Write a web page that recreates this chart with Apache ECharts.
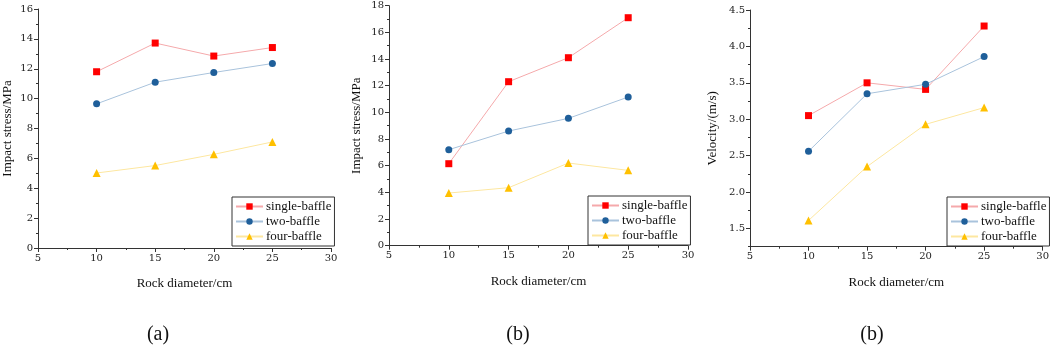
<!DOCTYPE html>
<html>
<head>
<meta charset="utf-8">
<script src="https://cdn.jsdelivr.net/npm/echarts@6/dist/echarts.min.js"></script>
<style>
html,body{margin:0;padding:0;background:#fff;}
#c{width:1052px;height:348px;}
</style>
</head>
<body>
<div id="c"></div>
<script>
// ---- data ----
var diameters = [10, 15, 20, 25];
var seriesNames = ['single-baffle', 'two-baffle', 'four-baffle'];

var stressA_single = [11.8, 13.72, 12.85, 13.42];
var stressA_two    = [9.65, 11.1, 11.75, 12.35];
var stressA_four   = [5.02, 5.52, 6.27, 7.1];

var stressB_single = [6.15, 12.3, 14.1, 17.1];
var stressB_two    = [7.2, 8.6, 9.55, 11.15];
var stressB_four   = [3.95, 4.35, 6.2, 5.65];

var velC_single = [3.05, 3.5, 3.41, 4.28];
var velC_two    = [2.56, 3.35, 3.48, 3.86];
var velC_four   = [1.61, 2.35, 2.93, 3.16];

var xTicks = [5, 10, 15, 20, 25, 30];
var yTicksA = [0, 2, 4, 6, 8, 10, 12, 14, 16];
var yTicksB = [0, 2, 4, 6, 8, 10, 12, 14, 16, 18];
var yTicksC = [1.5, 2.0, 2.5, 3.0, 3.5, 4.0, 4.5];

var captions = ['(a)', '(b)', '(b)'];
var xName = 'Rock diameter/cm';
var yNames = ['Impact stress/MPa', 'Impact stress/MPa', 'Velocity/(m/s)'];

// ---- styling ----
var serif = 'Liberation Serif';
var tickFont = 'DejaVu Serif';
var markerColors = ['#ff0000', '#1f5f9a', '#ffc000'];
var lineColors = ['#f5a9ab', '#a9c3dc', '#fde7a0'];
var symbols = ['rect', 'circle', 'triangle'];
var symbolSizes = [7, 7, 8];

function pairs(vals) { return diameters.map(function (d, i) { return [d, vals[i]]; }); }

var grids = [
  {left: 33, right: 721, top: 9, bottom: 100},
  {left: 389, right: 364, top: 5.7, bottom: 102.3},
  {left: 750, right: 6, top: 10, bottom: 101.3}
];

var axisLineStyle = {color: '#333', width: 1};
function xAxis(i) {
  return {
    type: 'value', gridIndex: i, min: xTicks[0], max: xTicks[xTicks.length - 1], interval: 5,
    name: xName, nameLocation: 'middle', nameGap: 29,
    nameTextStyle: {fontFamily: serif, fontSize: 13, color: '#111'},
    axisLine: {show: true, lineStyle: axisLineStyle},
    axisTick: {show: true, inside: false, length: 4, lineStyle: axisLineStyle},
    minorTick: {show: true, splitNumber: 2, length: 2, lineStyle: {color: '#333'}},
    axisLabel: {fontFamily: tickFont, fontSize: 10, color: '#222', margin: 5},
    splitLine: {show: false}
  };
}
function yAxis(i, ticks, nameGap, extra) {
  var a = {
    type: 'value', gridIndex: i,
    name: yNames[i], nameLocation: 'middle', nameGap: nameGap,
    nameTextStyle: {fontFamily: serif, fontSize: 13, color: '#111'},
    axisLine: {show: true, lineStyle: axisLineStyle},
    axisTick: {show: true, inside: false, length: 4, lineStyle: axisLineStyle},
    minorTick: {show: true, splitNumber: 2, length: 2, lineStyle: {color: '#333'}},
    axisLabel: {fontFamily: tickFont, fontSize: 10, color: '#222', margin: 5},
    splitLine: {show: false}
  };
  for (var k in extra) a[k] = extra[k];
  return a;
}

var yAxes = [
  yAxis(0, yTicksA, 24, {min: yTicksA[0], max: yTicksA[yTicksA.length - 1], interval: 2}),
  yAxis(1, yTicksB, 26, {min: yTicksB[0], max: yTicksB[yTicksB.length - 1], interval: 2}),
  yAxis(2, yTicksC, 31, {min: 1.25, max: yTicksC[yTicksC.length - 1]})
];
// panel (c): labels/ticks at custom positions, minor ticks from a hidden helper axis
yAxes[2].axisLabel.customValues = yTicksC;
yAxes[2].axisLabel.formatter = function (v) { return v.toFixed(1); };
yAxes[2].axisTick.customValues = yTicksC;
yAxes[2].minorTick = {show: false};
yAxes.push({
  type: 'value', gridIndex: 2, min: 1.25, max: 4.5, interval: 0.25, position: 'left',
  axisLine: {show: false}, axisLabel: {show: false}, splitLine: {show: false},
  axisTick: {show: true, inside: false, length: 2, lineStyle: {color: '#333'}}
});

var panels = [
  [stressA_single, stressA_two, stressA_four],
  [stressB_single, stressB_two, stressB_four],
  [velC_single, velC_two, velC_four]
];

var series = [];
panels.forEach(function (p, gi) {
  p.forEach(function (vals, si) {
    series.push({
      type: 'line', name: seriesNames[si], xAxisIndex: gi, yAxisIndex: gi,
      data: pairs(vals), symbol: symbols[si], symbolSize: symbolSizes[si],
      lineStyle: {color: lineColors[si], width: 1},
      itemStyle: {color: markerColors[si]},
      emphasis: {disabled: true}, animation: false, z: 3
    });
  });
});

var legendPos = [
  {left: 232, top: 197},
  {left: 588, top: 196},
  {left: 947, top: 197}
];
var legends = legendPos.map(function (pos, i) {
  return {
    left: pos.left, top: pos.top, orient: 'vertical',
    data: seriesNames, borderColor: '#333', borderWidth: 1, borderRadius: 0,
    padding: [3, 3, 3, 3], itemGap: 2, itemWidth: 27, itemHeight: 8,
    textStyle: {fontFamily: serif, fontSize: 13, color: '#111', padding: [0, 0, 0, -2]},
    selectedMode: false, backgroundColor: '#fff'
  };
});

var capX = [158, 518, 872];
var graphics = captions.map(function (t, i) {
  return {type: 'text', x: capX[i], y: 335,
    style: {text: t, font: '20px "Liberation Serif"', fill: '#111', textAlign: 'center', textVerticalAlign: 'middle'}};
});

var chart = echarts.init(document.getElementById('c'), null, {renderer: 'canvas'});
chart.setOption({
  animation: false,
  grid: grids,
  xAxis: [xAxis(0), xAxis(1), xAxis(2)],
  yAxis: yAxes,
  legend: legends,
  series: series,
  graphic: graphics
});
</script>
</body>
</html>
